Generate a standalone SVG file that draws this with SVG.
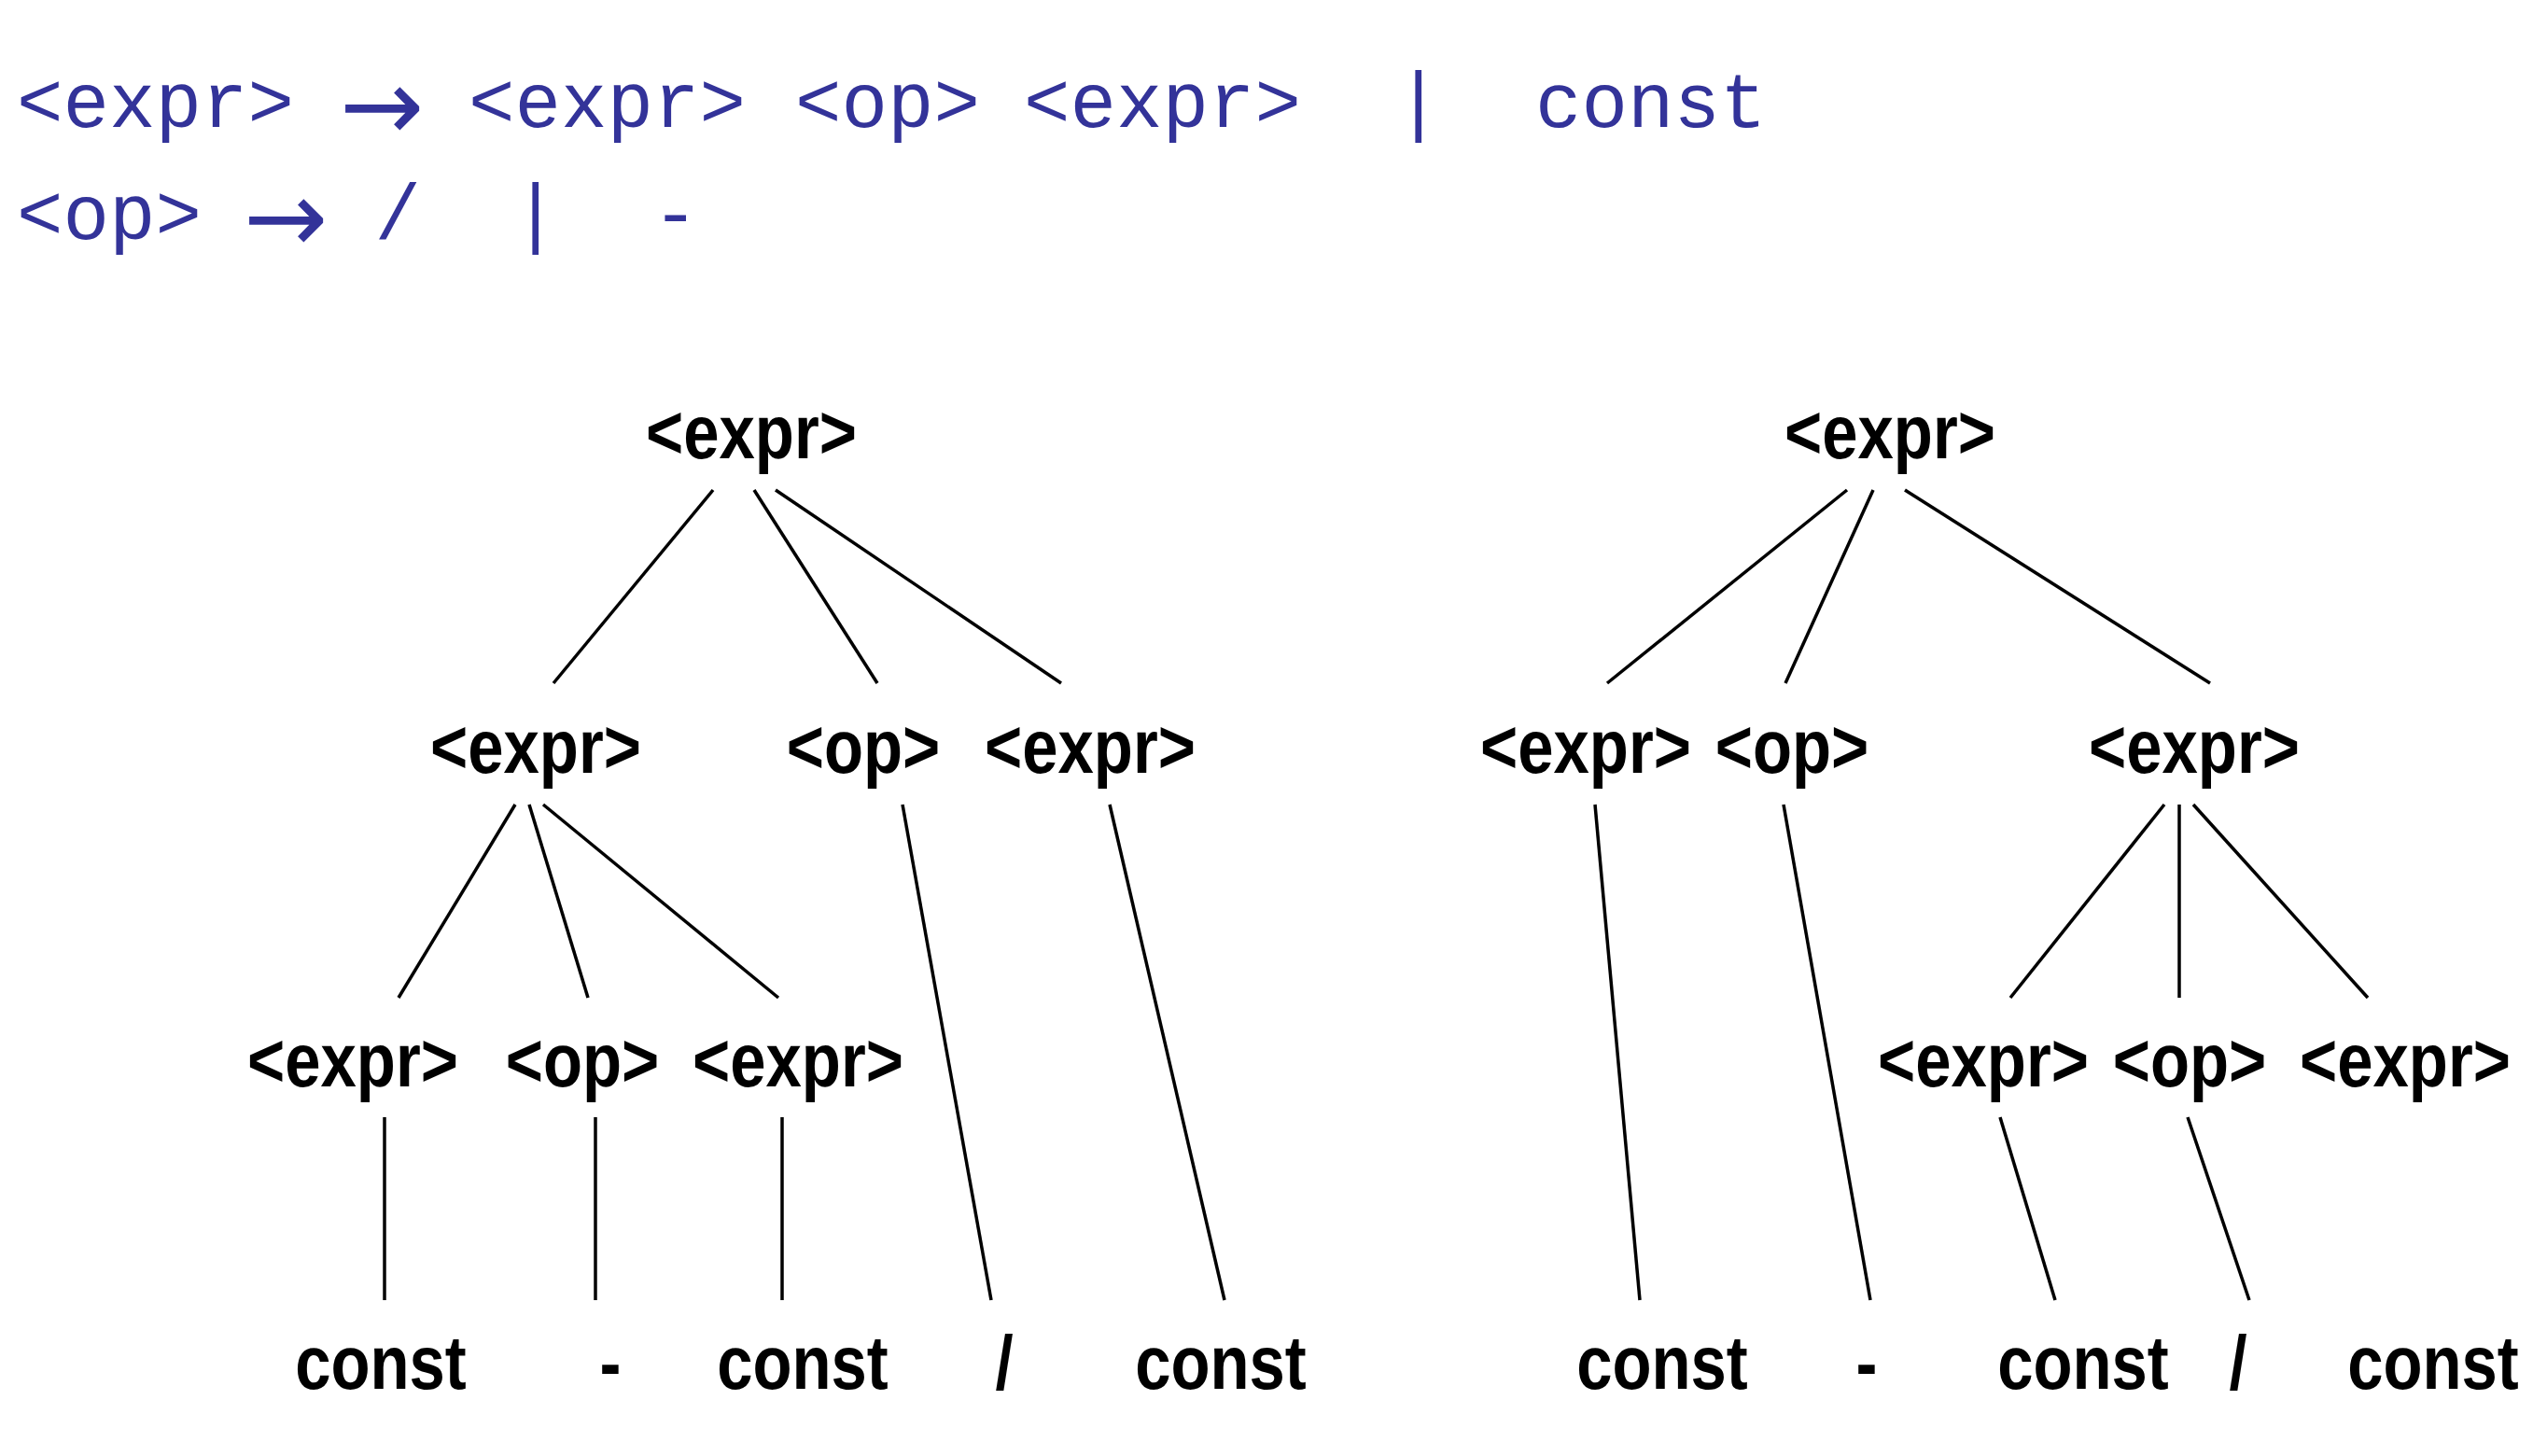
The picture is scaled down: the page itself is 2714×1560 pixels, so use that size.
<svg xmlns="http://www.w3.org/2000/svg" width="2714" height="1560" viewBox="0 0 2714 1560">
<style>
.g{font-family:"Liberation Mono","Courier New",monospace;font-size:82.5px;fill:#333399}
.ar{font-family:"DejaVu Sans",sans-serif;font-size:108px;fill:#333399}
.n{font-family:"Liberation Sans",Arial,Helvetica,sans-serif;font-weight:bold;font-size:81px;fill:#000;text-anchor:middle}
.e{stroke:#000;stroke-width:3.5;fill:none}
</style>
<rect width="2714" height="1560" fill="#fff"/>
<g id="grammar">
<text class="g" y="136"><tspan x="18">&lt;expr&gt;</tspan><tspan x="502">&lt;expr&gt;</tspan><tspan x="852">&lt;op&gt;</tspan><tspan x="1097">&lt;expr&gt;</tspan><tspan x="1495">|</tspan><tspan x="1645">const</tspan></text>
<text class="ar" x="364" y="150">→</text>
<text class="g" y="256"><tspan x="18">&lt;op&gt;</tspan><tspan x="401.5">/</tspan><tspan x="549">|</tspan><tspan x="699">-</tspan></text>
<text class="ar" x="261" y="270">→</text>
</g>
<g id="connectors" class="e">
<line x1="764" y1="525" x2="593" y2="732"/>
<line x1="808" y1="525" x2="940" y2="732"/>
<line x1="831" y1="525" x2="1137" y2="732"/>
<line x1="552" y1="862" x2="427" y2="1069"/>
<line x1="567" y1="862" x2="630" y2="1069"/>
<line x1="582" y1="862" x2="834" y2="1069"/>
<line x1="967" y1="862" x2="1062" y2="1393"/>
<line x1="1189" y1="862" x2="1312" y2="1393"/>
<line x1="412" y1="1197" x2="412" y2="1393"/>
<line x1="638" y1="1197" x2="638" y2="1393"/>
<line x1="838" y1="1197" x2="838" y2="1393"/>
<line x1="1979" y1="525" x2="1722" y2="732"/>
<line x1="2007" y1="525" x2="1913" y2="732"/>
<line x1="2041" y1="525" x2="2368" y2="732"/>
<line x1="1709" y1="862" x2="1757" y2="1393"/>
<line x1="1911" y1="862" x2="2004" y2="1393"/>
<line x1="2319" y1="862" x2="2154" y2="1069"/>
<line x1="2335" y1="862" x2="2335" y2="1069"/>
<line x1="2350" y1="862" x2="2537" y2="1069"/>
<line x1="2143" y1="1197" x2="2202" y2="1393"/>
<line x1="2344" y1="1197" x2="2410" y2="1393"/>
</g>
<g id="L-root"><text class="n" transform="translate(805,491) scale(0.85,1)">&lt;expr&gt;</text></g>
<g id="L-e1"><text class="n" transform="translate(574,828) scale(0.85,1)">&lt;expr&gt;</text></g>
<g id="L-op1"><text class="n" transform="translate(925,828) scale(0.85,1)">&lt;op&gt;</text></g>
<g id="L-e2"><text class="n" transform="translate(1168,828) scale(0.85,1)">&lt;expr&gt;</text></g>
<g id="L-e11"><text class="n" transform="translate(378,1164) scale(0.85,1)">&lt;expr&gt;</text></g>
<g id="L-op11"><text class="n" transform="translate(624,1164) scale(0.85,1)">&lt;op&gt;</text></g>
<g id="L-e12"><text class="n" transform="translate(855,1164) scale(0.85,1)">&lt;expr&gt;</text></g>
<g id="L-c1"><text class="n" transform="translate(408,1488) scale(0.85,1)">const</text></g>
<g id="L-minus"><text class="n" transform="translate(654,1488) scale(0.85,1)">-</text></g>
<g id="L-c2"><text class="n" transform="translate(860,1488) scale(0.85,1)">const</text></g>
<g id="L-div"><text class="n" transform="translate(1076,1488) scale(0.85,1)">/</text></g>
<g id="L-c3"><text class="n" transform="translate(1308,1488) scale(0.85,1)">const</text></g>
<g id="R-root"><text class="n" transform="translate(2025,491) scale(0.85,1)">&lt;expr&gt;</text></g>
<g id="R-e1"><text class="n" transform="translate(1699,828) scale(0.85,1)">&lt;expr&gt;</text></g>
<g id="R-op1"><text class="n" transform="translate(1920,828) scale(0.85,1)">&lt;op&gt;</text></g>
<g id="R-e2"><text class="n" transform="translate(2351,828) scale(0.85,1)">&lt;expr&gt;</text></g>
<g id="R-e21"><text class="n" transform="translate(2125,1164) scale(0.85,1)">&lt;expr&gt;</text></g>
<g id="R-op21"><text class="n" transform="translate(2346,1164) scale(0.85,1)">&lt;op&gt;</text></g>
<g id="R-e22"><text class="n" transform="translate(2577,1164) scale(0.85,1)">&lt;expr&gt;</text></g>
<g id="R-c1"><text class="n" transform="translate(1781,1488) scale(0.85,1)">const</text></g>
<g id="R-minus"><text class="n" transform="translate(2000,1488) scale(0.85,1)">-</text></g>
<g id="R-c2"><text class="n" transform="translate(2232,1488) scale(0.85,1)">const</text></g>
<g id="R-div"><text class="n" transform="translate(2398,1488) scale(0.85,1)">/</text></g>
<g id="R-c3"><text class="n" transform="translate(2607,1488) scale(0.85,1)">const</text></g>
</svg>
